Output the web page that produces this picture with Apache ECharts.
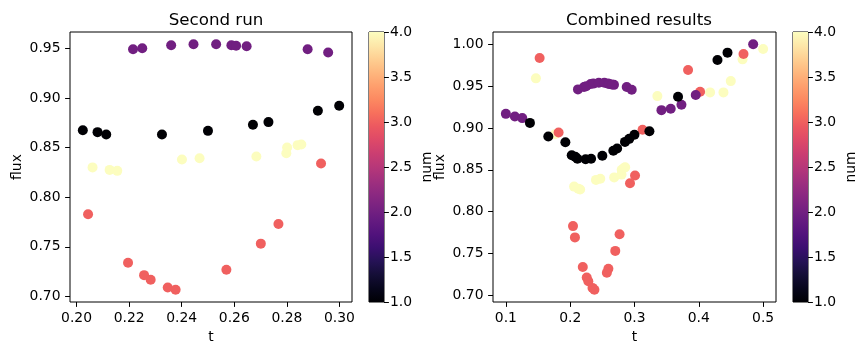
<!DOCTYPE html>
<html>
<head>
<meta charset="utf-8">
<script src="https://cdn.jsdelivr.net/npm/echarts@6/dist/echarts.min.js"></script>
<style>
html,body{margin:0;padding:0;background:#fff;}
#chart{width:866px;height:355px;}
</style>
</head>
<body>
<div id="chart"></div>
<script>
// ---- Second run data ----
const secondT = [0.2024,0.2080,0.2113,0.2325,0.2500,0.2671,0.2730,0.2918,0.2999,
  0.2215,0.2250,0.2360,0.2445,0.2531,0.2589,0.2607,0.2647,0.2879,0.2957,
  0.2044,0.2196,0.2257,0.2282,0.2347,0.2377,0.2570,0.2701,0.2768,0.2930,
  0.2061,0.2126,0.2155,0.2401,0.2468,0.2684,0.2798,0.2801,0.2841,0.2855];
const secondFlux = [0.8675,0.8655,0.8632,0.8632,0.8668,0.8729,0.8756,0.8870,0.8920,
  0.9490,0.9500,0.9530,0.9540,0.9540,0.9530,0.9526,0.9520,0.9490,0.9457,
  0.7828,0.7340,0.7215,0.7169,0.7090,0.7068,0.7270,0.7532,0.7730,0.8340,
  0.8300,0.8275,0.8265,0.8380,0.8393,0.8410,0.8443,0.8500,0.8524,0.8531];
const secondNum = [1,1,1,1,1,1,1,1,1,
  2,2,2,2,2,2,2,2,2,2,
  3,3,3,3,3,3,3,3,3,3,
  4,4,4,4,4,4,4,4,4,4];

// ---- First run data (only in combined) ----
const firstT = [0.1467,0.1763,0.3356,0.4175,0.4383,0.4497,0.4680,0.5000,
  0.1525,0.1820,0.2074,0.2594,0.3008,0.3125,0.3833,0.4020,0.4695,
  0.1000,0.1140,0.1255,0.2121,0.2318,0.2681,0.3419,0.3563,0.3730,0.3952,0.4845,
  0.1374,0.1660,0.1925,0.2240,0.2852,0.3232,0.3677,0.4290,0.4446];
const firstFlux = [0.9593,0.8926,0.9381,0.9425,0.9425,0.9560,0.9820,0.9944,
  0.9836,0.8946,0.7693,0.7318,0.8432,0.8978,0.9692,0.9433,0.9884,
  0.9169,0.9138,0.9118,0.9461,0.9525,0.9515,0.9213,0.9229,0.9277,0.9393,1.0000,
  0.9061,0.8899,0.8830,0.8627,0.8834,0.8962,0.9373,0.9812,0.9900];
const firstNum = [4,4,4,4,4,4,4,4,
  3,3,3,3,3,3,3,3,3,
  2,2,2,2,2,2,2,2,2,2,2,
  1,1,1,1,1,1,1,1,1];

// ---- Tick labels ----
const leftXTicks = [0.20,0.22,0.24,0.26,0.28,0.30];
const leftYTicks = [0.70,0.75,0.80,0.85,0.90,0.95];
const rightXTicks = [0.1,0.2,0.3,0.4,0.5];
const rightYTicks = [0.70,0.75,0.80,0.85,0.90,0.95,1.00];
const numMin = 1, numMax = 4, numStep = 0.5;

const titles = ['Second run', 'Combined results'];

// magma colormap
const magma = ['#000004','#07061c','#140e36','#251255','#3b0f70','#51127c','#641a80','#782281','#8c2981','#a1307e','#b73779','#cb3e71','#de4968','#ec5860','#f7705c','#fc8961','#fe9f6d','#feb77e','#fecf92','#fde7a9','#fcfdbf'];

function zip(t, f, n){ return t.map((v,i)=>[v, f[i], n[i]]); }
const secondData = zip(secondT, secondFlux, secondNum);
const combinedData = zip(firstT.concat(secondT), firstFlux.concat(secondFlux), firstNum.concat(secondNum));

function lim(arr){
  const mn = Math.min(...arr), mx = Math.max(...arr), r = mx - mn;
  return [mn - 0.05*r, mx + 0.05*r];
}
const lx = lim(secondT), ly = lim(secondFlux);
const rx = lim(firstT.concat(secondT)), ry = lim(firstFlux.concat(secondFlux));

const FONT = 'DejaVu Sans';
const FS = 13.9;
const tickLen = 4.9;

function valAxis(gridIndex, range, ticks, dec, name, isX){
  return {
    type:'value', gridIndex, min: range[0], max: range[1],
    name, nameLocation:'middle', nameGap: isX ? 27 : 46, nameRotate: isX ? 0 : 90,
    nameTextStyle:{fontFamily:FONT, fontSize:FS, color:'#000'},
    axisLine:{show:false},
    splitLine:{show:false},
    axisTick:{show:true, length:tickLen, customValues: ticks, lineStyle:{color:'#000', width:1}},
    axisLabel:{show:true, customValues: ticks, margin: 9.5, fontFamily:FONT, fontSize:FS, color:'#000',
      formatter: v => v.toFixed(dec)}
  };
}

const cbGrad = {type:'linear', x:0, y:1, x2:0, y2:0,
  colorStops: magma.map((c,i)=>({offset:i/(magma.length-1), color:c}))};

function cbY(gridIndex){
  return {
    type:'value', gridIndex, min:numMin, max:numMax, interval:numStep, position:'right',
    name:'num', nameLocation:'middle', nameGap:36, nameRotate:90,
    nameTextStyle:{fontFamily:FONT, fontSize:FS, color:'#000'},
    axisLine:{show:false}, splitLine:{show:false},
    axisTick:{show:true, length:tickLen, lineStyle:{color:'#000', width:1}},
    axisLabel:{margin:6, fontFamily:FONT, fontSize:FS, color:'#000', formatter: v => v.toFixed(1)}
  };
}
function cbX(gridIndex){
  return {type:'category', gridIndex, data:['c'], show:false, boundaryGap:true};
}

const gridStyle = {show:true, borderColor:'#000', borderWidth:1, backgroundColor:'#fff'};

const option = {
  animation:false,
  backgroundColor:'#fff',
  title:[
    {text:titles[0], left:211, top:7, textAlign:'center', textStyle:{fontFamily:FONT, fontSize:16.7, fontWeight:'normal', color:'#000'}},
    {text:titles[1], left:634, top:7, textAlign:'center', textStyle:{fontFamily:FONT, fontSize:16.7, fontWeight:'normal', color:'#000'}}
  ],
  grid:[
    Object.assign({left:70, top:32, width:282, height:270}, gridStyle),
    Object.assign({left:369, top:32, width:15, height:270}, gridStyle),
    Object.assign({left:493, top:32, width:283, height:270}, gridStyle),
    Object.assign({left:793, top:32, width:15, height:270}, gridStyle)
  ],
  xAxis:[
    valAxis(0, lx, leftXTicks, 2, 't', true),
    cbX(1),
    valAxis(2, rx, rightXTicks, 1, 't', true),
    cbX(3)
  ],
  yAxis:[
    valAxis(0, ly, leftYTicks, 2, 'flux', false),
    cbY(1),
    valAxis(2, ry, rightYTicks, 2, 'flux', false),
    cbY(3)
  ],
  visualMap:{
    type:'continuous', show:false, min:numMin, max:numMax, dimension:2,
    seriesIndex:[0,1], inRange:{color: magma}
  },
  series:[
    {type:'scatter', xAxisIndex:0, yAxisIndex:0, data: secondData, symbolSize:10, itemStyle:{opacity:1}},
    {type:'scatter', xAxisIndex:2, yAxisIndex:2, data: combinedData, symbolSize:10, itemStyle:{opacity:1}},
    {type:'bar', xAxisIndex:1, yAxisIndex:1, stack:'cb1', data:[numMin], barWidth:'100%', itemStyle:{color:'rgba(0,0,0,0)'}, silent:true},
    {type:'bar', xAxisIndex:1, yAxisIndex:1, stack:'cb1', data:[numMax-numMin], barWidth:'100%', itemStyle:{color:cbGrad}, silent:true},
    {type:'bar', xAxisIndex:3, yAxisIndex:3, stack:'cb2', data:[numMin], barWidth:'100%', itemStyle:{color:'rgba(0,0,0,0)'}, silent:true},
    {type:'bar', xAxisIndex:3, yAxisIndex:3, stack:'cb2', data:[numMax-numMin], barWidth:'100%', itemStyle:{color:cbGrad}, silent:true}
  ]
};

const chart = echarts.init(document.getElementById('chart'), null, {renderer:'canvas'});
chart.setOption(option);
</script>
</body>
</html>
